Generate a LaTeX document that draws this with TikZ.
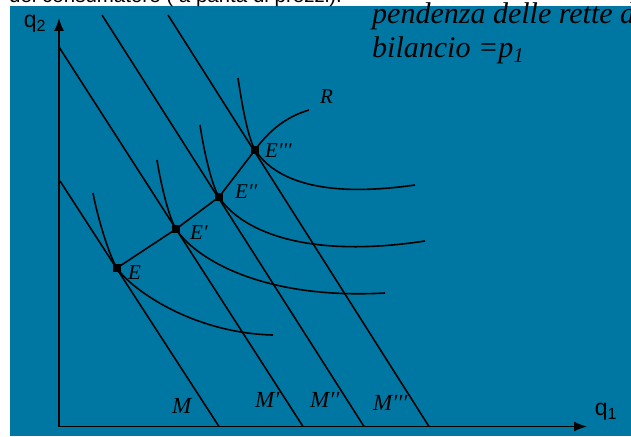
\documentclass[tikz,border=0pt]{standalone}
\usepackage{fontspec}
\setmainfont{Liberation Serif}
\newfontfamily\arialf{Liberation Sans}
\usetikzlibrary{arrows.meta}
\definecolor{bgblue}{RGB}{0,119,162}
\begin{document}
\begin{tikzpicture}[x=1pt,y=-1pt,
  ln/.style={line width=1.6pt,black},
  axis/.style={line width=1.6pt,black,-{Latex[length=13pt,width=10pt]}},
  dot/.style={rectangle,fill=black,inner sep=0pt,minimum size=8pt},
  elab/.style={anchor=base west,inner sep=0pt,font=\fontsize{21}{24}\selectfont\itshape},
  mlab/.style={anchor=base west,inner sep=0pt,font=\fontsize{23}{26}\selectfont\itshape},
  qlab/.style={inner sep=0pt,font=\arialf\fontsize{23}{25}\selectfont},
  note/.style={anchor=base west,inner sep=0pt,align=left,font=\fontsize{30}{33}\selectfont\itshape}]
\clip (0,0) rectangle (631,436);
\fill[white] (0,0) rectangle (631,436);
\fill[bgblue] (10,6) rectangle (631,436);
\node[anchor=base west,inner sep=0pt,font=\arialf\fontsize{20.5}{22}\selectfont] (title) at (9,2.5) {del consumatore ( a parità di prezzi).};
% axes
\coordinate (O) at (59,426.5);
\coordinate (ytip) at (59,18);
\coordinate (xtip) at (587,426.5);
\draw[axis] (O) -- (ytip);
\draw[axis] (O) -- (xtip);
\node[qlab] (q2) at (35,24) {q\textsubscript{2}};
\node[qlab] (q1) at (606,412) {q\textsubscript{1}};
% budget lines
\coordinate (m1a) at (60,181);  \coordinate (m1b) at (219,426.5);
\coordinate (m2a) at (59,47);   \coordinate (m2b) at (303,426.5);
\coordinate (m3a) at (102,15);  \coordinate (m3b) at (364,426.5);
\coordinate (m4a) at (168,15);  \coordinate (m4b) at (429,426.5);
\draw[ln] (m1a) -- (m1b);
\draw[ln] (m2a) -- (m2b);
\draw[ln] (m3a) -- (m3b);
\draw[ln] (m4a) -- (m4b);
% equilibrium points
\node[dot] (E) at (117,268) {};
\node[dot] (E1) at (176,229) {};
\node[dot] (E2) at (219,197) {};
\node[dot] (E3) at (255,150) {};
% indifference curves
\coordinate (i1s) at (93,193);  \coordinate (i1e) at (273,335);
\coordinate (i2s) at (157,160); \coordinate (i2e) at (385,293);
\coordinate (i3s) at (200,125); \coordinate (i3e) at (425,241);
\coordinate (i4s) at (238,78);  \coordinate (i4e) at (415,185);
\draw[ln] (i1s) .. controls (97,215) and (109,256) .. (E.center) .. controls (129,287) and (190,333) .. (i1e);
\draw[ln] (i2s) .. controls (161,185) and (169,218) .. (E1.center) .. controls (194,257) and (260,300) .. (i2e);
\draw[ln] (i3s) .. controls (204,152) and (212,186) .. (E2.center) .. controls (239,228) and (300,260) .. (i3e);
\draw[ln] (i4s) .. controls (242,105) and (248,138) .. (E3.center) .. controls (271,174) and (310,200) .. (i4e);
% expansion path
\coordinate (Rend) at (309,110);
\draw[ln] (E.center) -- (E1.center) -- (E2.center) -- (E3.center) .. controls (268,132) and (285,117) .. (Rend);
% labels
\node[elab] (lE)  at (128,279) {E};
\node[elab] (lE1) at (190,239) {E\char"2032};
\node[elab] (lE2) at (235,198) {E\char"2032\char"2032};
\node[elab] (lE3) at (265,157) {E\char"2032\char"2032\char"2032};
\node[elab] (lR)  at (320,103) {R};
\node[mlab] (lM)  at (172,413) {M};
\node[mlab] (lM1) at (255,407) {M\char"2032};
\node[mlab] (lM2) at (310,407) {M\char"2032\char"2032};
\node[mlab] (lM3) at (373,410) {M\char"2032\char"2032\char"2032};
\node[note] (txt) at (372,57) {pendenza delle rette di\\bilancio =p\textsubscript{1}};
\end{tikzpicture}
\end{document}
